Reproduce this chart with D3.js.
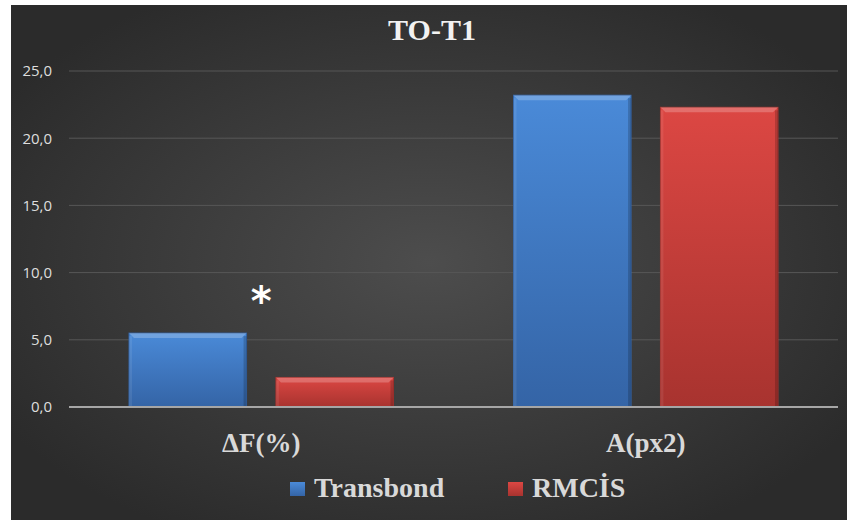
<!DOCTYPE html>
<html>
<head>
<meta charset="utf-8">
<script src="https://cdn.jsdelivr.net/npm/d3@7"></script>
<style>
  html, body { margin: 0; padding: 0; background: #ffffff; }
  svg { display: block; }
  .serif { font-family: 'Liberation Serif', 'Times New Roman', 'DejaVu Serif', serif; font-weight: bold; }
</style>
</head>
<body>
<div id="chart"></div>
<script>
// chart data
const categories = ['\u0394F(%)', 'A(px2)'];
const seriesNames = ['Transbond', 'RMC\u0130S'];
const transbond = [5.5, 23.2];
const rmcis = [2.2, 22.3];
const yTicks = [0, 5, 10, 15, 20, 25];
const seriesColors = { Transbond: ['#4a8ad8', '#3464a6'], 'RMC\u0130S': ['#dc4743', '#a8332f'] };

const width = 847, height = 520;
const margin = { left: 69, right: 9, top: 71, bottom: 113 };

const svg = d3.select('#chart').append('svg')
  .attr('width', width)
  .attr('height', height);

const defs = svg.append('defs');

// background gradient
const bg = defs.append('radialGradient')
  .attr('id', 'bg')
  .attr('cx', '50%').attr('cy', '50%').attr('r', '60%');
bg.append('stop').attr('offset', '0%').attr('stop-color', '#4d4d4d');
bg.append('stop').attr('offset', '100%').attr('stop-color', '#2b2b2b');

svg.append('rect')
  .attr('x', 11).attr('y', 5)
  .attr('width', width - 11).attr('height', height - 5)
  .attr('fill', 'url(#bg)');

// bar gradients
seriesNames.forEach((name, i) => {
  const g = defs.append('linearGradient')
    .attr('id', `bar${i}`)
    .attr('x1', 0).attr('y1', 0).attr('x2', 0).attr('y2', 1);
  g.append('stop').attr('offset', '0%').attr('stop-color', seriesColors[name][0]);
  g.append('stop').attr('offset', '100%').attr('stop-color', seriesColors[name][1]);
});

const x0 = d3.scaleBand()
  .domain(categories)
  .range([margin.left, width - margin.right])
  .paddingInner(0)
  .paddingOuter(0);

const x1 = d3.scaleBand()
  .domain(seriesNames)
  .range([60, x0.bandwidth() - 60])
  .paddingInner(0.2);

const y = d3.scaleLinear()
  .domain([0, 25])
  .range([height - margin.bottom, margin.top]);

// gridlines
svg.append('g')
  .selectAll('line')
  .data(yTicks.filter(d => d > 0))
  .join('line')
  .attr('x1', margin.left)
  .attr('x2', width - margin.right)
  .attr('y1', d => y(d))
  .attr('y2', d => y(d))
  .attr('stroke', '#575757')
  .attr('stroke-width', 1);

// y axis labels
const yAxis = d3.axisLeft(y)
  .tickValues(yTicks)
  .tickSize(0)
  .tickPadding(0)
  .tickFormat(d => d3.format('.1f')(d).replace('.', ','));

const yg = svg.append('g')
  .attr('transform', `translate(${margin.left - 17},0)`)
  .call(yAxis);
yg.select('.domain').remove();
yg.selectAll('text')
  .attr('fill', '#dedede')
  .style('font-family', "'Open Sans', 'Liberation Sans', sans-serif")
  .style('font-size', '15px');

// bars
const rows = categories.map((c, i) => ({ cat: c, values: [transbond[i], rmcis[i]] }));

const groups = svg.append('g')
  .selectAll('g')
  .data(rows)
  .join('g')
  .attr('transform', d => `translate(${x0(d.cat)},0)`);

groups.each(function(row) {
  const g = d3.select(this);
  row.values.forEach((v, i) => {
    const name = seriesNames[i];
    const bx = x1(name), bw = x1.bandwidth();
    const by = y(v), bh = y(0) - y(v);
    g.append('rect')
      .attr('x', bx).attr('y', by)
      .attr('width', bw).attr('height', bh)
      .attr('fill', `url(#bar${i})`)
      .attr('stroke', seriesColors[name][1])
      .attr('stroke-width', 1);
    // bevel highlight on top
    g.append('path')
      .attr('d', `M${bx},${by} L${bx + bw},${by} L${bx + bw - 5},${by + 5} L${bx + 5},${by + 5} Z`)
      .attr('fill', '#ffffff')
      .attr('opacity', 0.22);
    // darker sides
    g.append('rect')
      .attr('x', bx + bw - 3).attr('y', by + 3)
      .attr('width', 3).attr('height', Math.max(0, bh - 3))
      .attr('fill', '#000')
      .attr('opacity', 0.18);
    g.append('rect')
      .attr('x', bx).attr('y', by + 3)
      .attr('width', 3).attr('height', Math.max(0, bh - 3))
      .attr('fill', '#fff')
      .attr('opacity', 0.08);
  });
});

// zero line
svg.append('line')
  .attr('x1', margin.left)
  .attr('x2', width - margin.right)
  .attr('y1', y(0))
  .attr('y2', y(0))
  .attr('stroke', '#a6a6a6')
  .attr('stroke-width', 2);

// category labels
svg.append('g')
  .selectAll('text')
  .data(categories)
  .join('text')
  .attr('class', 'serif')
  .attr('x', d => x0(d) + x0.bandwidth() / 2)
  .attr('y', 452)
  .attr('text-anchor', 'middle')
  .attr('fill', '#d9d9d9')
  .style('font-size', '27px')
  .text(d => d);

// significance marker
svg.append('text')
  .attr('x', x0(categories[0]) + x0.bandwidth() / 2)
  .attr('y', y(transbond[0]) - 18)
  .attr('text-anchor', 'middle')
  .attr('fill', '#ffffff')
  .style('font-family', "'DejaVu Sans', sans-serif")
  .style('font-weight', 'bold')
  .style('font-size', '40px')
  .text('*');

// title
svg.append('text')
  .attr('class', 'serif')
  .attr('x', 432)
  .attr('y', 40)
  .attr('text-anchor', 'middle')
  .attr('fill', '#f2f2f2')
  .style('font-size', '30px')
  .text('TO-T1');

// legend
const legendX = [290, 508];
const legend = svg.append('g')
  .selectAll('g')
  .data(seriesNames)
  .join('g')
  .attr('transform', (d, i) => `translate(${legendX[i]},497)`);

legend.append('rect')
  .attr('x', 0).attr('y', -15)
  .attr('width', 15).attr('height', 14)
  .attr('fill', (d, i) => `url(#bar${i})`);

legend.append('text')
  .attr('class', 'serif')
  .attr('x', 24)
  .attr('y', 0)
  .attr('fill', '#d9d9d9')
  .style('font-size', '28px')
  .text(d => d);
</script>
</body>
</html>
